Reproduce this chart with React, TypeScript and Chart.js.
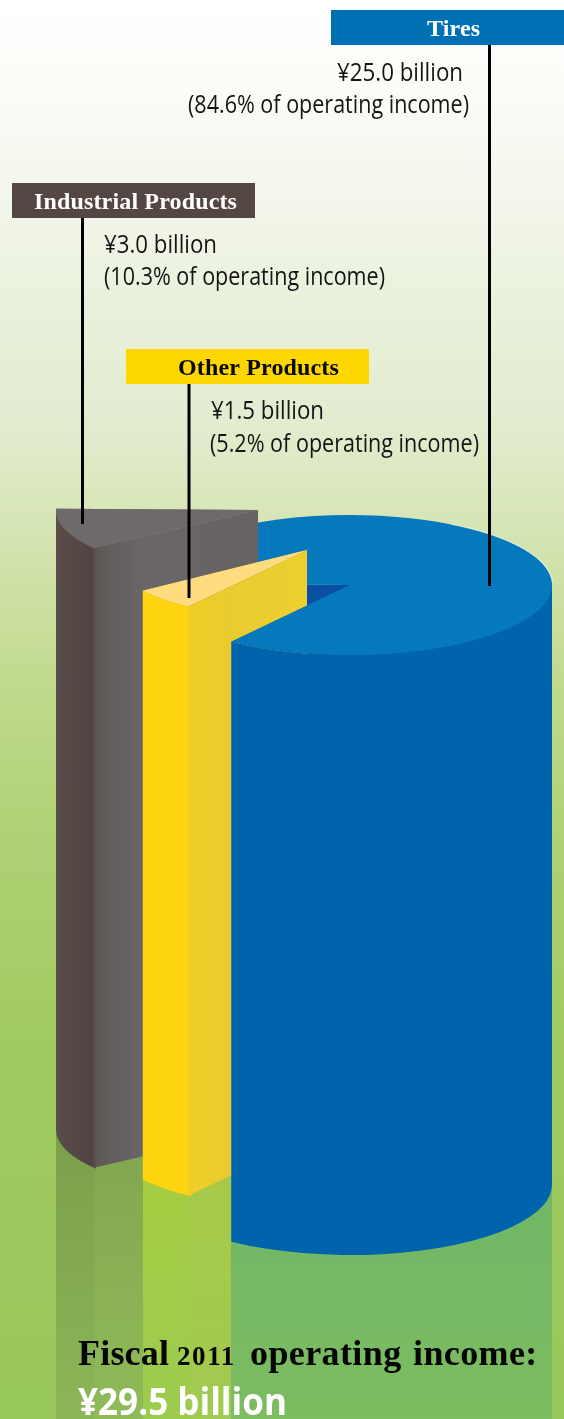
import React, { useEffect, useRef } from "react";
import { Chart, registerables } from "chart.js";

Chart.register(...registerables);

// Operating income by segment, in billions of yen (slice order runs clockwise).
const categories = ["Tires", "Other Products", "Industrial Products"];
const incomeBillions = [25.0, 1.5, 3.0];
const sharePercent = [84.6, 5.2, 10.3];
const totalLabel = "¥29.5 billion";
const topColors = ["#0579BC", "#FFDC80", "#6E6A6C"];

const W = 564;
const H = 1419;
const FLAT = 70 / 202;

type Stop = [number, string];
interface Solid {
  cx: number;
  cy: number;
  squash: number;
  depth: number;
  from: number;
  to: number;
  stops: Stop[];
}

const deg = (d: number) => (d * Math.PI) / 180;

// Each solid's placement on the page, keyed by slice index.
const solids: Solid[] = [
  { cx: 350, cy: 585, squash: FLAT, depth: 600, from: 0, to: 126, stops: [[231, "#0064AC"], [552, "#0064AC"]] },
  { cx: 307, cy: 550, squash: FLAT, depth: 589, from: 126, to: 144.4, stops: [[143, "#FFD411"], [186, "#FFD411"], [190, "#EFCE28"], [231, "#EACB30"], [307, "#EECF30"]] },
  { cx: 258, cy: 510, squash: 65 / 202, depth: 620, from: 144.4, to: 181, stops: [[55, "#5A4C49"], [92, "#524442"], [97, "#5F5857"], [143, "#6A6667"], [259, "#676362"]] },
];

const callouts = [
  { box: [331, 10, 233, 35], fill: "#0070B5", ink: "#FFFFFF", tx: 427, line: [489.5, 45, 586], vx: 337, vw: 126, sx: 188, sw: 281, vy: 81, sy: 113 },
  { box: [126, 349, 243, 35], fill: "#FFD700", ink: "#0A0A0A", tx: 178, line: [189, 384, 598], vx: 211, vw: 113, sx: 210, sw: 269, vy: 419, sy: 452 },
  { box: [12, 183, 243, 35], fill: "#544643", ink: "#FFFFFF", tx: 34, line: [82.5, 218, 524], vx: 104, vw: 113, sx: 104, sw: 281, vy: 253, sy: 285 },
];

const horizontalFill = (ctx: CanvasRenderingContext2D, stops: Stop[]) => {
  const g = ctx.createLinearGradient(stops[0][0], 0, stops[stops.length - 1][0], 0);
  const span = stops[stops.length - 1][0] - stops[0][0];
  stops.forEach(([x, c]) => g.addColorStop((x - stops[0][0]) / span, c));
  return g;
};

// Flat cut face first, then the curved outer side lapping slightly over it,
// with the area under the top face filled too so no seams show.
const drawWall = (ctx: CanvasRenderingContext2D, s: Solid, r: number) => {
  const ry = r * s.squash;
  const a0 = deg(s.from);
  const a1 = deg(s.to);
  const x0 = s.cx + r * Math.cos(a0);
  const y0 = s.cy + ry * Math.sin(a0);
  ctx.fillStyle = horizontalFill(ctx, s.stops);
  ctx.beginPath();
  ctx.moveTo(s.cx, s.cy);
  ctx.lineTo(x0, y0);
  ctx.ellipse(s.cx, s.cy, r, ry, 0, a0, a1);
  ctx.closePath();
  ctx.fill();
  ctx.beginPath();
  ctx.moveTo(s.cx, s.cy);
  ctx.lineTo(x0, y0);
  ctx.lineTo(x0, y0 + s.depth);
  ctx.lineTo(s.cx, s.cy + s.depth);
  ctx.closePath();
  ctx.fill();
  ctx.beginPath();
  ctx.ellipse(s.cx, s.cy, r, ry, 0, a0 - deg(1), a1);
  ctx.ellipse(s.cx, s.cy + s.depth, r, ry, 0, a1, a0 - deg(1), true);
  ctx.closePath();
  ctx.fill();
};

const drawTop = (ctx: CanvasRenderingContext2D, arc: any, s: Solid) => {
  ctx.save();
  ctx.translate(s.cx, s.cy);
  ctx.scale(1, s.squash);
  ctx.translate(-arc.x, -arc.y);
  arc.draw(ctx);
  ctx.restore();
};

const spaced = (ctx: CanvasRenderingContext2D, text: string, x: number, y: number, font: string, gap: string) => {
  ctx.font = font;
  (ctx as any).letterSpacing = gap;
  ctx.fillText(text, x, y);
  (ctx as any).letterSpacing = "0px";
};

const solidChart = {
  id: "solidChart",
  beforeDraw(chart: any) {
    const ctx: CanvasRenderingContext2D = chart.ctx;
    const bg = ctx.createLinearGradient(0, 0, 0, H);
    [
      [0, "#FFFFFF"],
      [0.07, "#FBFBF7"],
      [0.14, "#F3F6EB"],
      [0.21, "#EAF1DD"],
      [0.3, "#E2ECCF"],
      [0.37, "#D6E5B5"],
      [0.46, "#C5DC94"],
      [0.58, "#B0D276"],
      [0.75, "#9FCA60"],
      [1, "#98C75A"],
    ].forEach(([o, c]) => bg.addColorStop(o as number, c as string));
    ctx.fillStyle = bg;
    ctx.fillRect(0, 0, W, H);

    // Reflections of the three columns on the ground below them.
    const strips: [number, number, string, string][] = [
      [56, 95, "#7C9F4A", "#8BB657"],
      [95, 143, "#82A54F", "#90BB58"],
      [143, 188, "#A7CE40", "#9CCB4E"],
      [188, 231, "#A9C947", "#A0CA50"],
      [231, 552, "#6DB569", "#7DBC60"],
    ];
    strips.forEach(([x0, x1, c0, c1]) => {
      const g = ctx.createLinearGradient(0, 1130, 0, H);
      g.addColorStop(0, c0);
      g.addColorStop(1, c1);
      ctx.fillStyle = g;
      ctx.fillRect(x0, 1128, x1 - x0, H - 1128);
    });
  },
  beforeDatasetsDraw(chart: any) {
    const ctx: CanvasRenderingContext2D = chart.ctx;
    const arcs = chart.getDatasetMeta(0).data;
    const r = arcs[0].outerRadius;
    const [tire, other, industrial] = solids;

    // Shaded face seen inside the gap left by the two pulled-out slices.
    const endA = deg(181);
    ctx.fillStyle = "#0A4FA3";
    ctx.beginPath();
    ctx.moveTo(tire.cx, tire.cy);
    ctx.lineTo(tire.cx + r * Math.cos(endA), tire.cy + r * FLAT * Math.sin(endA));
    ctx.lineTo(tire.cx + r * Math.cos(endA), tire.cy + 300);
    ctx.lineTo(tire.cx, tire.cy + 300);
    ctx.closePath();
    ctx.fill();
    drawTop(ctx, arcs[0], tire);

    // Pale rim along the far edge of the big slice.
    ctx.strokeStyle = "rgba(238,250,238,0.55)";
    ctx.lineWidth = 1.2;
    ctx.beginPath();
    ctx.ellipse(tire.cx, tire.cy, r + 0.8, (r + 0.8) * FLAT, 0, deg(300), deg(358));
    ctx.stroke();

    drawWall(ctx, industrial, r);
    drawTop(ctx, arcs[2], industrial);
    drawWall(ctx, other, r);
    drawTop(ctx, arcs[1], other);

    // The front of the big slice sits ahead of the yellow column.
    drawWall(ctx, tire, r);
    ctx.save();
    ctx.beginPath();
    ctx.moveTo(tire.cx, tire.cy);
    ctx.ellipse(tire.cx, tire.cy, r + 2, (r + 2) * FLAT, 0, deg(-2), arcs[0].endAngle - 2 * Math.PI);
    ctx.closePath();
    ctx.clip();
    drawTop(ctx, arcs[0], tire);
    ctx.restore();
    return false;
  },
  afterDraw(chart: any) {
    const ctx: CanvasRenderingContext2D = chart.ctx;
    ctx.textBaseline = "alphabetic";
    ctx.textAlign = "left";
    callouts.forEach((c, i) => {
      const [bx, by, bw, bh] = c.box;
      ctx.fillStyle = c.fill;
      ctx.fillRect(bx, by, bw, bh);
      const [lx, ly0, ly1] = c.line;
      ctx.fillStyle = "#000000";
      ctx.fillRect(lx - 1.5, ly0, 3, ly1 - ly0);
      ctx.fillStyle = c.ink;
      spaced(ctx, categories[i], c.tx, by + 26, 'bold 24px "Liberation Serif"', "0.15px");
      ctx.fillStyle = "#151515";
      ctx.font = '25px "Open Sans"';
      ctx.fillText(`¥${incomeBillions[i].toFixed(1)} billion`, c.vx, c.vy, c.vw);
      ctx.fillText(`(${sharePercent[i].toFixed(1)}% of operating income)`, c.sx, c.sy, c.sw);
    });

    // Heading with old-style looking figures, set as a smaller run.
    ctx.fillStyle = "#050505";
    spaced(ctx, "Fiscal", 78, 1365, 'bold 36px "Liberation Serif"', "0.2px");
    spaced(ctx, "2011", 177, 1365, 'bold 27px "Liberation Serif"', "1.6px");
    spaced(ctx, "operating", 250, 1365, 'bold 36px "Liberation Serif"', "0.4px");
    spaced(ctx, "income:", 413, 1365, 'bold 36px "Liberation Serif"', "0.4px");

    ctx.fillStyle = "#FFFFFF";
    ctx.font = 'bold 37px "Open Sans"';
    ctx.fillText(totalLabel, 78, 1415, 209);
  },
};

export default function App() {
  const ref = useRef<HTMLCanvasElement>(null);
  useEffect(() => {
    const chart = new Chart(ref.current as HTMLCanvasElement, {
      type: "pie",
      data: {
        labels: categories,
        datasets: [{ data: incomeBillions, backgroundColor: topColors, borderWidth: 0 }],
      },
      options: {
        animation: false,
        responsive: false,
        devicePixelRatio: 1,
        rotation: 271,
        events: [],
        layout: { padding: { left: 148, right: 12, top: 383, bottom: 632 } },
        plugins: { legend: { display: false }, tooltip: { enabled: false } },
      },
      plugins: [solidChart],
    } as any);
    return () => chart.destroy();
  }, []);
  return (
    <div style={{ position: "absolute", left: 0, top: 0, width: W, height: H }}>
      <canvas ref={ref} width={W} height={H} style={{ display: "block" }} />
    </div>
  );
}
